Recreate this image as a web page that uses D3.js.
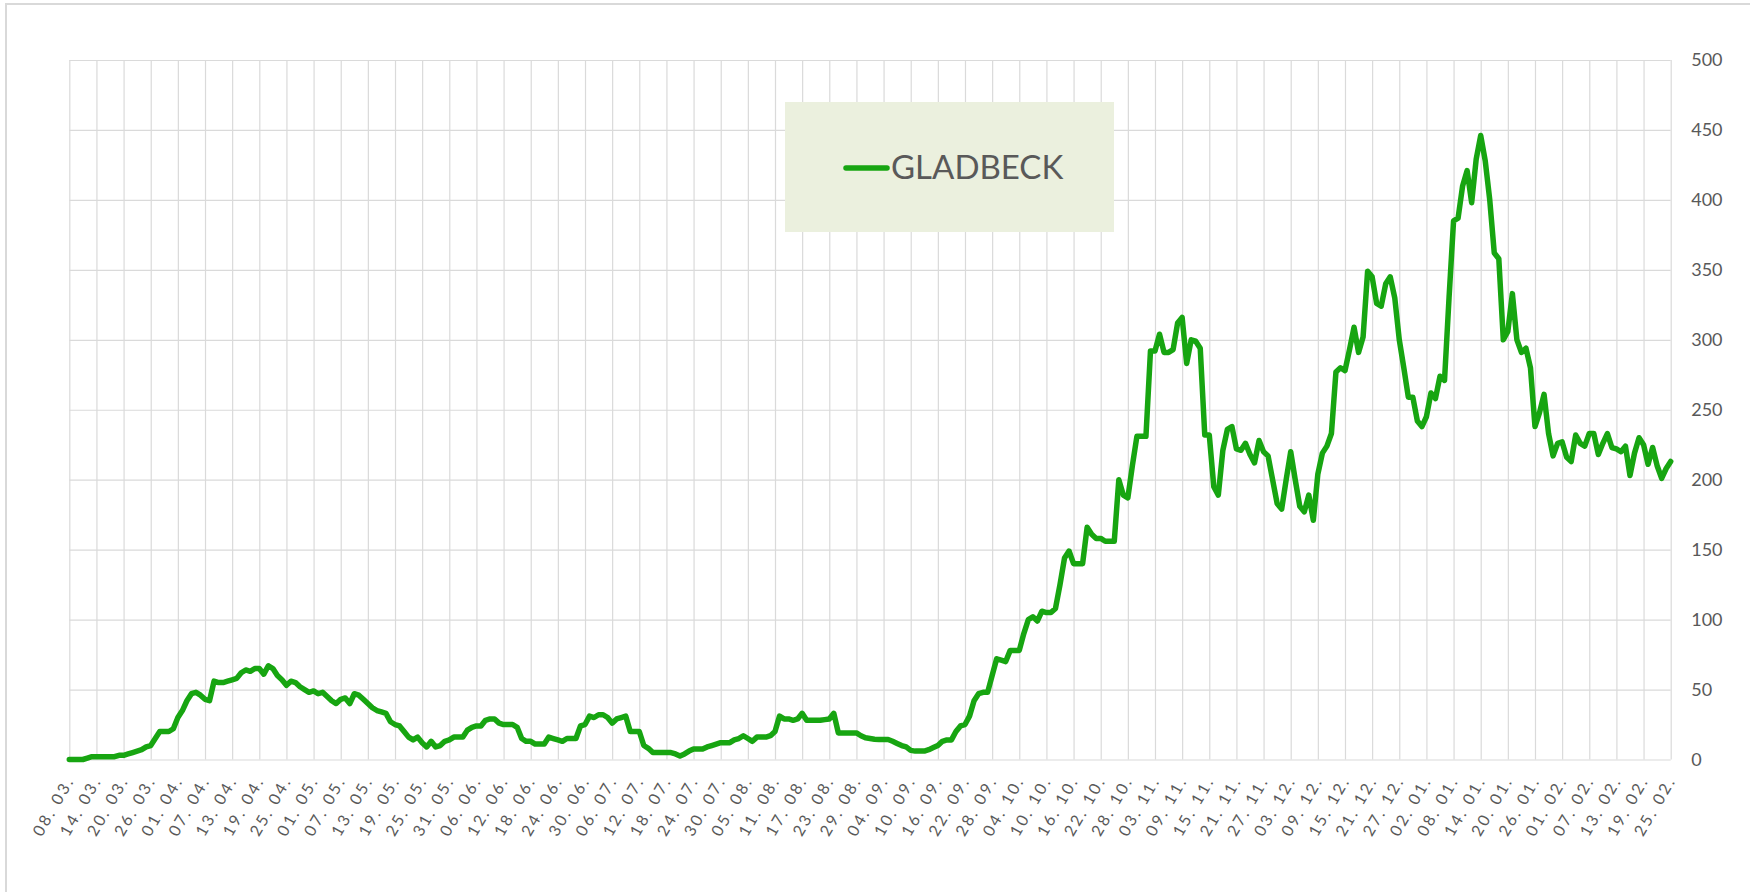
<!DOCTYPE html>
<html>
<head>
<meta charset="utf-8">
<script src="https://cdn.jsdelivr.net/npm/d3@7"></script>
<style>
    html, body { margin: 0; padding: 0; background: #fff; }
    svg { display: block; font-family: Lato, "Open Sans", sans-serif; }
    .grid line { stroke: #dadada; stroke-width: 1.2px; }
    .grid .domain { display: none; }
    .tick-label { fill: #595959; font-size: 16px; }
</style>
</head>
<body>
<svg id="chart" width="1750" height="892"></svg>
<script>
// --- Data ---
const seriesName = 'GLADBECK';
const startDate = new Date(Date.UTC(2020, 2, 8));   // 08.03.2020
const endDate = new Date(Date.UTC(2021, 1, 25));    // 25.02.2021
const tickStepDays = 6;
const yTicks = [0, 50, 100, 150, 200, 250, 300, 350, 400, 450, 500];

// daily values, Mar - May
const valuesSpring = [
    0, 0, 0, 0, 1, 2, 2, 2, 2, 2,
    2, 3, 3, 4, 5, 6, 7, 9, 10, 15,
    20, 20, 20, 22, 30, 35, 42, 47, 48, 46,
    43, 42, 56, 55, 55, 56, 57, 58, 62, 64,
    63, 65, 65, 61, 67, 65, 60, 57, 53, 56,
    55, 52, 50, 48, 49, 47, 48, 45, 42, 40,
    43, 44, 40, 47, 46, 43, 40, 37, 35, 34,
    33, 27, 25, 24, 20, 16, 14, 16
];
// daily values, late May - September
const valuesSummer = [
    12, 9, 13, 9, 10, 13, 14, 16, 16, 16,
    21, 23, 24, 24, 28, 29, 29, 26, 25, 25,
    25, 23, 15, 13, 13, 11, 11, 11, 16, 15,
    14, 13, 15, 15, 15, 24, 25, 31, 30, 32,
    32, 30, 26, 29, 30, 31, 20, 20, 20, 10,
    8, 5, 5, 5, 5, 5, 4, 2.5, 4, 6,
    7.5, 7.5, 7.5, 9, 10, 11, 12, 12, 12, 14,
    15, 17, 15, 13, 16, 16, 16, 17, 20, 31,
    29, 29, 28, 29, 33, 28, 28, 28, 28, 28.5,
    29, 33, 19, 19, 19, 19, 19, 17, 15.5, 15,
    14.5, 14.3, 14.3, 14.3, 13, 11.5, 10, 9, 6.5, 6,
    6, 6, 7, 8.5
];
// daily values, late September - November
const valuesAutumn = [
    10, 13, 14, 14, 20, 24, 25, 31, 42, 47,
    48, 48, 60, 72, 71, 70, 78, 78, 78, 90,
    100, 102, 99, 106, 105, 105, 108, 125, 144, 149,
    140, 140, 140, 166, 161, 158, 158, 156, 156, 156,
    200, 189, 187, 210, 231, 231, 231,
    292, 292, 304, 291, 291, 293, 312, 316, 283, 300,
    299, 294, 232, 232, 195, 189, 221, 236, 238, 222,
    221, 226, 218, 212, 228, 220, 217, 200, 183, 179
];
// daily values, December - February
const valuesWinter = [
    200, 220, 200, 181, 177, 189, 171, 204, 219, 224,
    233, 277, 280, 278, 293, 309, 291, 302, 349, 345,
    326, 324, 340, 345, 330, 300, 280, 259, 259, 242,
    238, 245, 262, 258, 274, 271, 330, 385, 387, 410,
    421, 398, 429, 446, 428, 400, 362, 358, 300, 306,
    333, 300, 291, 294, 280, 238, 248, 261, 233, 217,
    226, 227, 216, 213, 232, 226, 224, 233, 233, 218,
    226, 233, 223, 222, 220, 224, 203, 219, 230, 225,
    211, 223, 210, 201, 208, 213
];

const incidence = [...valuesSpring, ...valuesSummer, ...valuesAutumn, ...valuesWinter];
const dates = incidence.map((v, i) => d3.utcDay.offset(startDate, i));

// --- Layout ---
const plot = { left: 69.3, right: 1670.7, top: 60, bottom: 759.5 };
const lineColor = '#17a511';
const textColor = '#595959';

const svg = d3.select('#chart');

// chart frame (only top and left edge are inside the picture)
svg.append('rect')
    .attr('x', 6).attr('y', 4)
    .attr('width', 1800).attr('height', 1000)
    .attr('fill', '#fff')
    .attr('stroke', '#d9d9d9').attr('stroke-width', 2);

// --- Scales ---
const x = d3.scaleUtc().domain([startDate, endDate]).range([plot.left, plot.right]);
const y = d3.scaleLinear().domain([0, 500]).range([plot.bottom, plot.top]);
const tickDates = d3.utcDay.range(startDate, d3.utcDay.offset(endDate, 1), tickStepDays);

// vertical gridlines
svg.append('g')
    .attr('class', 'grid')
    .attr('transform', `translate(0,${plot.bottom})`)
    .call(d3.axisBottom(x).tickValues(tickDates).tickSize(-(plot.bottom - plot.top)).tickFormat(''));

// horizontal gridlines
svg.append('g')
    .attr('class', 'grid')
    .attr('transform', `translate(${plot.left},0)`)
    .call(d3.axisLeft(y).tickValues(yTicks).tickSize(-(plot.right - plot.left)).tickFormat(''));

// y axis labels on the right
const yAxis = svg.append('g')
    .attr('transform', `translate(${plot.right},0)`)
    .call(d3.axisRight(y).tickValues(yTicks).tickSize(0).tickPadding(20.5));
yAxis.select('.domain').remove();
yAxis.selectAll('text')
    .attr('fill', textColor)
    .attr('font-family', 'Lato, "Open Sans", sans-serif')
    .attr('font-size', 18)
    .attr('text-anchor', 'start');

// x axis labels, rotated
const dateFmt = d3.utcFormat('%d. %m.');
svg.append('g').attr('class', 'x-labels')
    .selectAll('text')
    .data(tickDates)
    .join('text')
    .attr('class', 'tick-label')
    .attr('text-anchor', 'start')
    .attr('textLength', 64)
    .attr('lengthAdjust', 'spacing')
    .attr('transform', d => `translate(${x(d) - 27.6},837.6) rotate(-60)`)
    .text(d => dateFmt(d));

// --- Series line ---
const line = d3.line()
    .x((d, i) => x(dates[i]))
    .y(d => y(d));

svg.append('path')
    .datum(incidence)
    .attr('fill', 'none')
    .attr('stroke', lineColor)
    .attr('stroke-width', 5.5)
    .attr('stroke-linejoin', 'round')
    .attr('stroke-linecap', 'round')
    .attr('d', line);

// --- Legend ---
const legend = svg.append('g').attr('transform', 'translate(785,102)');
legend.append('rect')
    .attr('width', 329).attr('height', 130)
    .attr('fill', '#ebf0de');
legend.append('line')
    .attr('x1', 61).attr('x2', 102)
    .attr('y1', 66).attr('y2', 66)
    .attr('stroke', lineColor)
    .attr('stroke-width', 5.5)
    .attr('stroke-linecap', 'round');
legend.append('text')
    .attr('x', 106).attr('y', 76.5)
    .attr('fill', textColor)
    .attr('font-size', 33)
    .text(seriesName);
</script>
</body>
</html>
